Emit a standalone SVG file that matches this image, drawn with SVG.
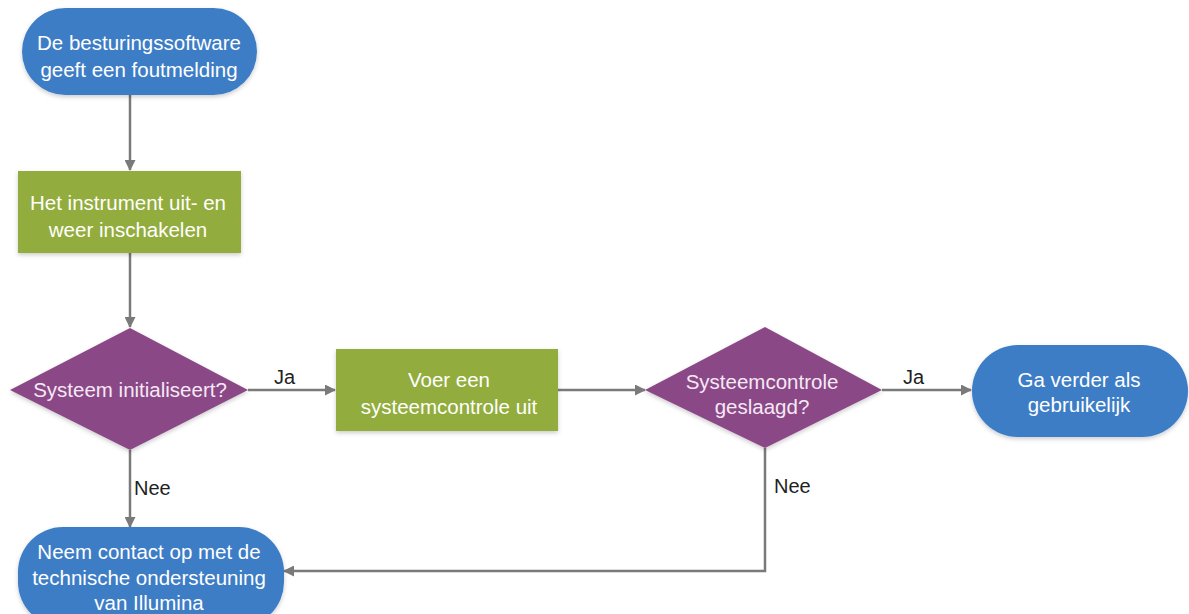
<svg xmlns="http://www.w3.org/2000/svg" width="1189" height="614" viewBox="0 0 1189 614">
<defs>
<marker id="arr" markerWidth="11" markerHeight="11" refX="10" refY="5.5" orient="auto" markerUnits="userSpaceOnUse">
<path d="M0,0 L11,5.5 L0,11 z" fill="#7a7a7a"/>
</marker>
<filter id="sh" x="-10%" y="-10%" width="120%" height="130%">
<feDropShadow dx="0" dy="2" stdDeviation="2" flood-color="#000" flood-opacity="0.2"/>
</filter>
</defs>
<style>
.term{fill:#3d7dc6;filter:url(#sh)}
.proc{fill:#92ad3e;filter:url(#sh)}
.dec{fill:#8a4a86;filter:url(#sh)}
.t{font-family:"Liberation Sans",Arial,sans-serif;font-size:20.5px;fill:#fff;text-anchor:middle}
.dt{fill:#f6e8f5}
.lbl{font-family:"Liberation Sans",Arial,sans-serif;font-size:20px;fill:#222}
.c{stroke:#7a7a7a;stroke-width:2.5;fill:none}
</style>
<rect width="1189" height="614" fill="#fff"/>
<g id="connectors">
<line class="c" x1="130" y1="95" x2="130" y2="170" marker-end="url(#arr)"/>
<line class="c" x1="130" y1="253" x2="130" y2="327" marker-end="url(#arr)"/>
<line class="c" x1="248" y1="390" x2="335" y2="390" marker-end="url(#arr)"/>
<line class="c" x1="558" y1="390" x2="645" y2="390" marker-end="url(#arr)"/>
<line class="c" x1="882" y1="390" x2="971" y2="390" marker-end="url(#arr)"/>
<line class="c" x1="130" y1="450" x2="130" y2="527" marker-end="url(#arr)"/>
<polyline class="c" points="765,448 765,571 284,571" marker-end="url(#arr)"/>
<text class="lbl" x="274" y="384">Ja</text>
<text class="lbl" x="903" y="384">Ja</text>
<text class="lbl" x="134" y="495">Nee</text>
<text class="lbl" x="774" y="493">Nee</text>
</g>
<g id="start">
<rect class="term" x="22" y="8" width="235" height="87" rx="43.5"/>
<text class="t" x="139" y="50">De besturingssoftware</text>
<text class="t" x="139" y="77">geeft een foutmelding</text>
</g>
<g id="restart">
<rect class="proc" x="18" y="171" width="223" height="82"/>
<text class="t" x="128" y="210">Het instrument uit- en</text>
<text class="t" x="128" y="237">weer inschakelen</text>
</g>
<g id="init">
<polygon class="dec" points="130,328 248,390 130,450 10,390"/>
<text class="t dt" x="130" y="397">Systeem initialiseert?</text>
</g>
<g id="check">
<rect class="proc" x="336" y="349" width="222" height="82"/>
<text class="t" x="449" y="387">Voer een</text>
<text class="t" x="449" y="414">systeemcontrole uit</text>
</g>
<g id="passed">
<polygon class="dec" points="765,327 882,390 765,448 645,390"/>
<text class="t dt" x="762" y="389">Systeemcontrole</text>
<text class="t dt" x="762" y="414">geslaagd?</text>
</g>
<g id="continue">
<rect class="term" x="972" y="345" width="216" height="92" rx="46"/>
<text class="t" x="1079" y="387">Ga verder als</text>
<text class="t" x="1079" y="412">gebruikelijk</text>
</g>
<g id="contact">
<rect class="term" x="18" y="527" width="266" height="100" rx="45"/>
<text class="t" x="149" y="559">Neem contact op met de</text>
<text class="t" x="149" y="585">technische ondersteuning</text>
<text class="t" x="149" y="610">van Illumina</text>
</g>
</svg>
